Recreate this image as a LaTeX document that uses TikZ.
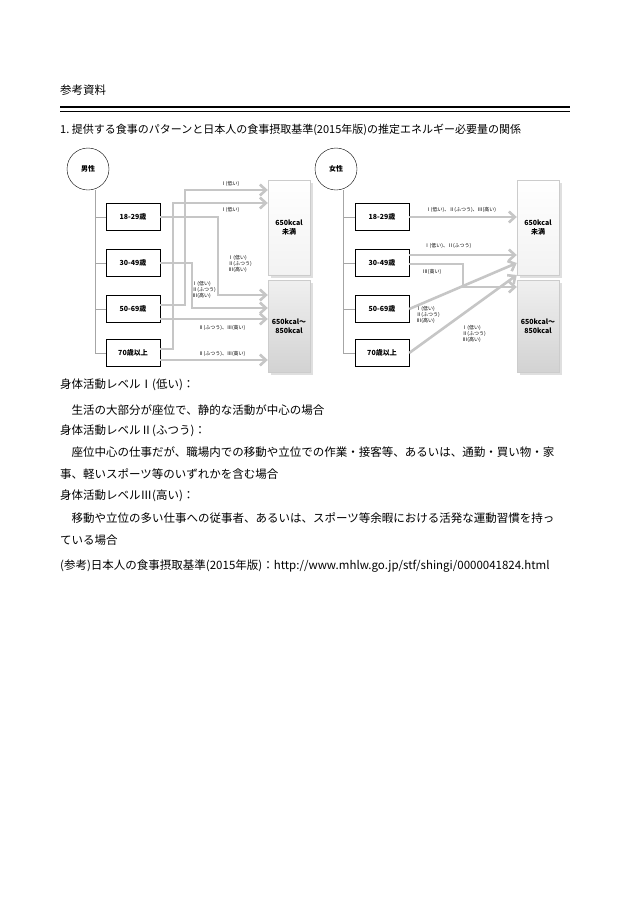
\documentclass[tikz,border=0pt]{standalone}
\usepackage{fontspec}
\setmainfont{Noto Sans CJK JP}
\usepackage{tikz}
\usetikzlibrary{arrows.meta, positioning, shadows}

\begin{document}
\begin{tikzpicture}[
    x=1pt, y=-1pt,
    txt/.style={anchor=west, inner sep=0pt, font=\fontsize{11.5}{13}\selectfont},
    agebox/.style={draw, fill=white, minimum width=54pt, minimum height=27pt, inner sep=0pt, font=\fontsize{7}{8}\selectfont\bfseries},
    sexnode/.style={draw, circle, minimum size=42pt, inner sep=0pt, font=\fontsize{7}{8}\selectfont\bfseries},
    target/.style={draw=gray!40, minimum width=42pt, inner sep=0pt, align=center, font=\fontsize{7}{9}\selectfont\bfseries, drop shadow={opacity=0.25}},
    arrow/.style={gray!45, line width=2.6pt, -{Straight Barb[length=6pt, width=11pt]}},
    lvl/.style={inner sep=0pt, align=left, font=\fontsize{5}{6}\selectfont},
]
\useasboundingbox (0,0) rectangle (630,916);

% Header
\node[txt] (head) at (60,90) {参考資料};
\draw[line width=2.5pt] (60,107) -- (570,107);
\draw[line width=0.6pt] (60,111) -- (570,111);
\node[txt, font=\fontsize{11}{13}\selectfont] (title) at (60,130) {1.\ 提供する食事のパターンと日本人の食事摂取基準(2015年版)の推定エネルギー必要量の関係};

% Male
\node[sexnode] (male) at (88,169) {男性};
\node[agebox] (m1) at (133,217) {18-29歳};
\node[agebox] (m2) at (133,263) {30-49歳};
\node[agebox] (m3) at (133,309) {50-69歳};
\node[agebox] (m4) at (133,353) {70歳以上};
\draw[gray!70, line width=0.8pt] (male.south -| 95,0) -- (95,353) -- (m4.west);
\foreach \b in {m1,m2,m3} \draw[gray!70, line width=0.8pt] (95,0 |- \b.west) -- (\b.west);

\node[target, minimum height=95pt, top color=white, bottom color=gray!10] (mlow) at (289,227.5) {650kcal\\未満};
\node[target, minimum height=92pt, top color=gray!12, bottom color=gray!35] (mhigh) at (289,326) {650kcal〜\\850kcal};

\draw[arrow] (m3.east |- 0,305) -- (185,305) -- (185,190) -- (mlow.west |- 0,190);
\draw[arrow] (m4.east |- 0,349) -- (173,349) -- (173,203) -- (mlow.west |- 0,203);
\draw[arrow] (m1.east) -- (218,217) -- (218,295) -- (mhigh.west |- 0,295);
\draw[arrow] (m2.east) -- (192,263) -- (192,308) -- (mhigh.west |- 0,308);
\draw[arrow] (m3.east |- 0,319) -- (mhigh.west |- 0,319);
\draw[arrow] (m4.east |- 0,360) -- (mhigh.west |- 0,360);
\node[lvl] (ml1) at (230,184) {Ⅰ(低い)};
\node[lvl] (ml2) at (230,210) {Ⅰ(低い)};
\node[lvl] (ml3) at (240,264) {Ⅰ(低い)\\Ⅱ(ふつう)\\Ⅲ(高い)};
\node[lvl] (ml4) at (204,290) {Ⅰ(低い)\\Ⅱ(ふつう)\\Ⅲ(高い)};
\node[lvl] (ml5) at (222,328) {Ⅱ(ふつう)、Ⅲ(高い)};
\node[lvl] (ml6) at (222,354) {Ⅱ(ふつう)、Ⅲ(高い)};

% Female
\node[sexnode] (female) at (336,169) {女性};
\node[agebox] (f1) at (382,217) {18-29歳};
\node[agebox] (f2) at (382,263) {30-49歳};
\node[agebox] (f3) at (382,309) {50-69歳};
\node[agebox] (f4) at (382,353) {70歳以上};
\draw[gray!70, line width=0.8pt] (female.south -| 343,0) -- (343,353) -- (f4.west);
\foreach \b in {f1,f2,f3} \draw[gray!70, line width=0.8pt] (343,0 |- \b.west) -- (\b.west);

\node[target, minimum height=95pt, top color=white, bottom color=gray!10] (flow) at (538,227.5) {650kcal\\未満};
\node[target, minimum height=92pt, top color=gray!12, bottom color=gray!35] (fhigh) at (538,326) {650kcal〜\\850kcal};

\draw[arrow] (f1.east) -- (flow.west |- 0,217);
\draw[arrow] (f2.east |- 0,255) -- (flow.west |- 0,255);
\draw[arrow] (f2.east |- 0,264) -- (463,264) -- (463,287) -- (flow.west |- 0,287);
\draw[arrow] (f3.east) -- (flow.west |- 0,263);
\draw[arrow] (f4.east) -- (flow.west |- 0,275);
\node[lvl] (fl1) at (461,210) {Ⅰ(低い)、Ⅱ(ふつう)、Ⅲ(高い)};
\node[lvl] (fl2) at (448,246) {Ⅰ(低い)、Ⅱ(ふつう)};
\node[lvl] (fl3) at (432,272) {Ⅲ(高い)};
\node[lvl] (fl4) at (428,315) {Ⅰ(低い)\\Ⅱ(ふつう)\\Ⅲ(高い)};
\node[lvl] (fl5) at (474,334) {Ⅰ(低い)\\Ⅱ(ふつう)\\Ⅲ(高い)};

% Notes
\node[txt] (n1) at (60,385) {身体活動レベルⅠ(低い)：};
\node[txt] (n2) at (60,410) {\hspace{1em}生活の大部分が座位で、静的な活動が中心の場合};
\node[txt] (n3) at (60,431) {身体活動レベルⅡ(ふつう)：};
\node[txt] (n4) at (60,452) {\hspace{1em}座位中心の仕事だが、職場内での移動や立位での作業・接客等、あるいは、通勤・買い物・家};
\node[txt] (n5) at (60,474) {事、軽いスポーツ等のいずれかを含む場合};
\node[txt] (n6) at (60,496) {身体活動レベルⅢ(高い)：};
\node[txt] (n7) at (60,518) {\hspace{1em}移動や立位の多い仕事への従事者、あるいは、スポーツ等余暇における活発な運動習慣を持っ};
\node[txt] (n8) at (60,540) {ている場合};
\node[txt] (ref) at (60,566) {(参考)日本人の食事摂取基準(2015年版)：http://www.mhlw.go.jp/stf/shingi/0000041824.html};
\end{tikzpicture}
\end{document}
